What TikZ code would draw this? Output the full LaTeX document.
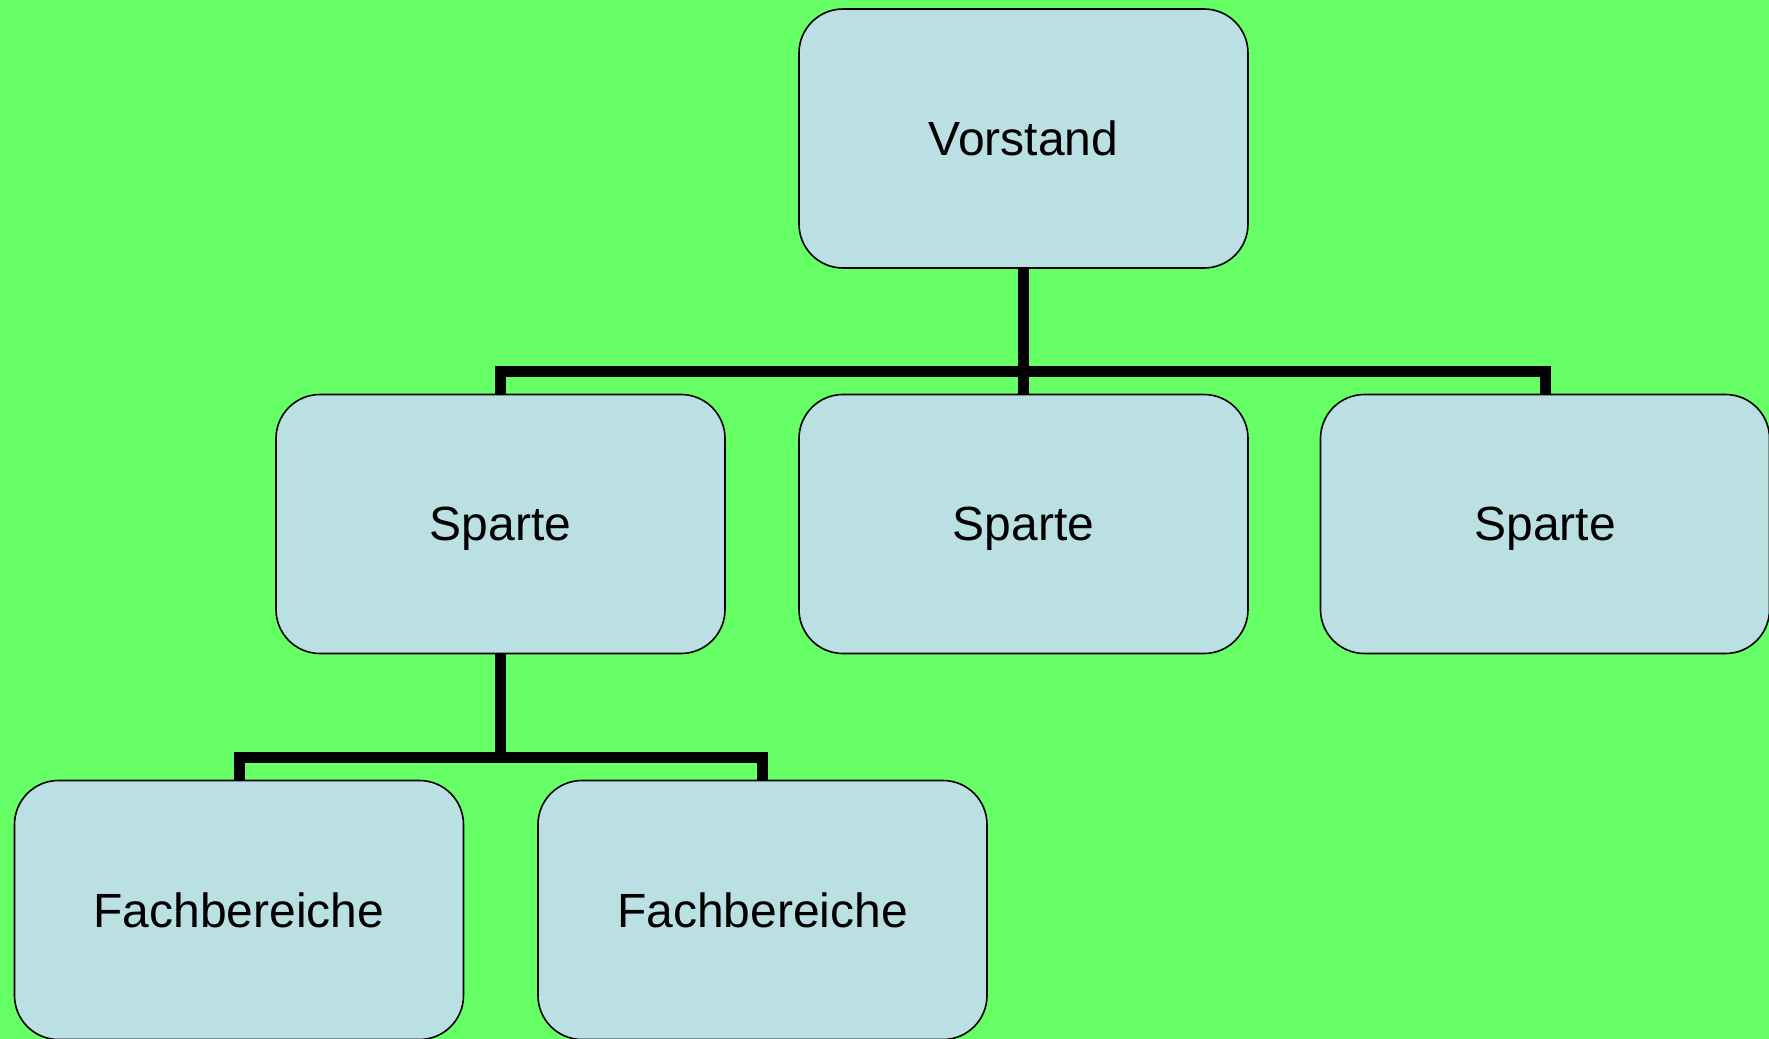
\documentclass[tikz,border=0pt]{standalone}
\usepackage{fontspec}
\setmainfont{Liberation Sans}
\definecolor{bggreen}{RGB}{102,255,102}
\definecolor{boxblue}{RGB}{186,224,227}
\begin{document}
\begin{tikzpicture}[x=0.5pt,y=-0.5pt,
  orgbox/.style={draw=black,line width=0.8pt,fill=boxblue,rounded corners=22pt,
    minimum width=224.5pt,minimum height=129.5pt,inner sep=0pt,outer sep=0pt,
    text depth=0pt,font=\fontsize{24}{28}\selectfont},
  conn/.style={line width=5.5pt,draw=black,line join=miter}]
\fill[bggreen] (0,0) rectangle (1769,1039);
\useasboundingbox (0,0) rectangle (1769,1039);
\coordinate (barA) at (1023.5,371.5);
\coordinate (barB) at (500.5,757);
\path (1023.5,138.5) coordinate (cV) (500.5,524) coordinate (cS1)
      (1023.5,524) coordinate (cS2) (1545,524) coordinate (cS3)
      (239,910) coordinate (cF1) (762.5,910) coordinate (cF2);
\node[orgbox] (V) at (cV) {Vorstand};
\node[orgbox] (S1) at (cS1) {Sparte};
\node[orgbox] (S2) at (cS2) {Sparte};
\node[orgbox] (S3) at (cS3) {Sparte};
\node[orgbox] (F1) at (cF1) {Fachbereiche};
\node[orgbox] (F2) at (cF2) {Fachbereiche};
\draw[conn] (V.south) -- (S2.north);
\draw[conn] (S1.north) -- (S1.north |- barA) -- (S3.north |- barA) -- (S3.north);
\draw[conn] (S1.south) -- (barB);
\draw[conn] (F1.north) -- (F1.north |- barB) -- (F2.north |- barB) -- (F2.north);
\end{tikzpicture}
\end{document}
